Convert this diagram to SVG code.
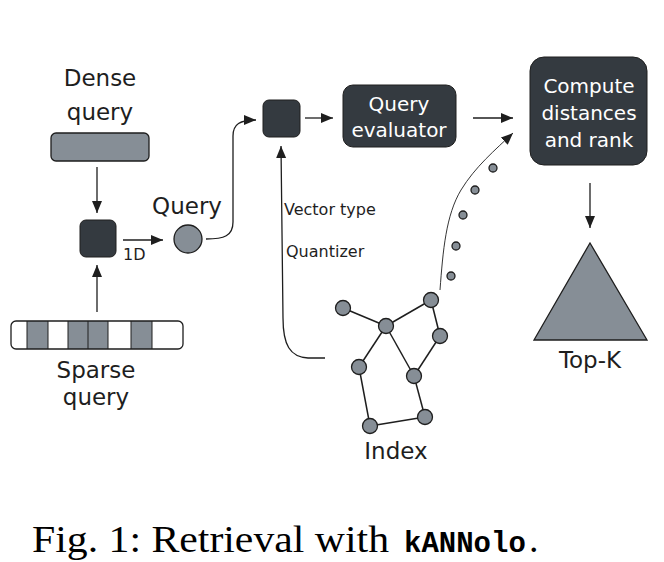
<svg xmlns="http://www.w3.org/2000/svg" width="664" height="562" viewBox="0 0 664 562">
<defs>
<marker id="ah" markerUnits="userSpaceOnUse" markerWidth="14" markerHeight="12" refX="12" refY="5" orient="auto">
<path d="M0,0 L12,5 L0,10 z" fill="#1e1e1e"/>
</marker>
<style>
.lbl{font-family:"DejaVu Sans","Noto Sans",sans-serif;font-size:23px;fill:#1e1e1e;text-anchor:middle}
.small{font-family:"DejaVu Sans","Noto Sans",sans-serif;font-size:16px;fill:#1e1e1e}
.wt{font-family:"DejaVu Sans","Noto Sans",sans-serif;font-size:20px;fill:#ffffff;text-anchor:middle}
.dark{fill:#343a40;stroke:#1e1e1e;stroke-width:1}
.gray{fill:#868e96;stroke:#1e1e1e;stroke-width:1.3}
.conn{fill:none;stroke:#1e1e1e;stroke-width:1.3}
.thin{fill:none;stroke:#1e1e1e;stroke-width:0.9}
.edge{stroke:#1e1e1e;stroke-width:1.5}
.cap{font-family:"Liberation Serif",serif;font-size:38px;fill:#000}
</style>
</defs>
<rect width="664" height="562" fill="#ffffff"/>

<g id="dense-query">
<rect class="gray" x="51" y="133" width="98" height="28" rx="5"/>
<text class="lbl" x="100" y="86">Dense</text>
<text class="lbl" x="100" y="120">query</text>
</g>

<g id="sparse-query">
<rect x="27" y="321" width="21" height="28" fill="#868e96"/>
<rect x="68" y="321" width="40" height="28" fill="#868e96"/>
<rect x="131" y="321" width="21" height="28" fill="#868e96"/>
<g stroke="#1e1e1e" stroke-width="1">
<line x1="27" y1="321" x2="27" y2="349"/>
<line x1="48" y1="321" x2="48" y2="349"/>
<line x1="68" y1="321" x2="68" y2="349"/>
<line x1="88" y1="321" x2="88" y2="349"/>
<line x1="108" y1="321" x2="108" y2="349"/>
<line x1="131" y1="321" x2="131" y2="349"/>
<line x1="152" y1="321" x2="152" y2="349"/>
</g>
<rect x="11" y="321" width="172" height="28" rx="5" fill="none" stroke="#1e1e1e" stroke-width="1.3"/>
<text class="lbl" x="96" y="378">Sparse</text>
<text class="lbl" x="96" y="405">query</text>
</g>

<g id="combine">
<rect class="dark" x="80" y="220" width="36" height="37" rx="6"/>
</g>

<g id="query">
<circle class="gray" cx="188" cy="239" r="14"/>
<text class="lbl" x="187" y="214">Query</text>
</g>

<g id="config">
<rect class="dark" x="263" y="100" width="37" height="37" rx="6"/>
</g>

<g id="query-evaluator">
<rect class="dark" x="343" y="85" width="113" height="62" rx="10"/>
<text class="wt" x="399" y="111">Query</text>
<text class="wt" x="399" y="137">evaluator</text>
</g>

<g id="compute">
<rect class="dark" x="530" y="57" width="117" height="108" rx="14"/>
<text class="wt" x="589" y="93">Compute</text>
<text class="wt" x="589" y="120">distances</text>
<text class="wt" x="589" y="147">and rank</text>
</g>

<g id="topk">
<polygon class="gray" points="590,243 647,340 534,340" stroke-width="0.8"/>
<text class="lbl" x="590" y="368">Top-K</text>
</g>

<g id="index">
<g class="edge">
<line x1="343" y1="308" x2="386" y2="326"/>
<line x1="386" y1="326" x2="431" y2="300"/>
<line x1="431" y1="300" x2="440" y2="336"/>
<line x1="440" y1="336" x2="414" y2="376"/>
<line x1="386" y1="326" x2="359" y2="367"/>
<line x1="386" y1="326" x2="414" y2="376"/>
<line x1="359" y1="367" x2="370" y2="426"/>
<line x1="370" y1="426" x2="425" y2="417"/>
<line x1="425" y1="417" x2="414" y2="376"/>
</g>
<g class="gray">
<circle cx="343" cy="308" r="7.5"/>
<circle cx="386" cy="326" r="7.5"/>
<circle cx="431" cy="300" r="7.5"/>
<circle cx="440" cy="336" r="7.5"/>
<circle cx="359" cy="367" r="7.5"/>
<circle cx="414" cy="376" r="7.5"/>
<circle cx="370" cy="426" r="7.5"/>
<circle cx="425" cy="417" r="7.5"/>
</g>
<text class="lbl" x="396" y="459">Index</text>
</g>

<g id="dots" class="gray" stroke-width="1">
<circle cx="493" cy="168" r="4"/>
<circle cx="475" cy="190" r="4"/>
<circle cx="463" cy="215" r="4"/>
<circle cx="456" cy="246" r="4"/>
<circle cx="451" cy="276" r="4"/>
</g>

<g id="connectors">
<path class="conn" d="M97,167 L97,213" marker-end="url(#ah)"/>
<path class="conn" d="M97,312 L97,265" marker-end="url(#ah)"/>
<path class="conn" d="M123,240 L163,240" marker-end="url(#ah)"/>
<text class="small" x="123" y="260" font-size="17">1D</text>
<path class="conn" d="M206,239 C224,239 233,236 233,222 L233,136 C233,124 240,120 256,120" marker-end="url(#ah)"/>
<path class="conn" d="M305,118 L333,118" marker-end="url(#ah)"/>
<path class="conn" d="M473,118 L513,118" marker-end="url(#ah)"/>
<path class="conn" d="M590,183 L590,228" marker-end="url(#ah)"/>
<path class="conn" d="M325,358 L308,358 C290,357 283,345 283,318 L281,146" marker-end="url(#ah)"/>
<text class="small" x="284" y="215" font-size="16.5">Vector type</text>
<text class="small" x="286" y="257" font-size="16.5">Quantizer</text>
<path class="thin" d="M440,290 C443,250 446,215 461,190 C475,167 495,150 513,133" marker-end="url(#ah)"/>
</g>

<g id="caption">
<text class="cap" x="32" y="552" textLength="357" lengthAdjust="spacingAndGlyphs">Fig. 1: Retrieval with</text>
<text x="404" y="552" font-family="Liberation Mono, monospace" font-weight="bold" font-size="29" fill="#000">kANNolo</text>
<text class="cap" x="529" y="552">.</text>
</g>
</svg>
